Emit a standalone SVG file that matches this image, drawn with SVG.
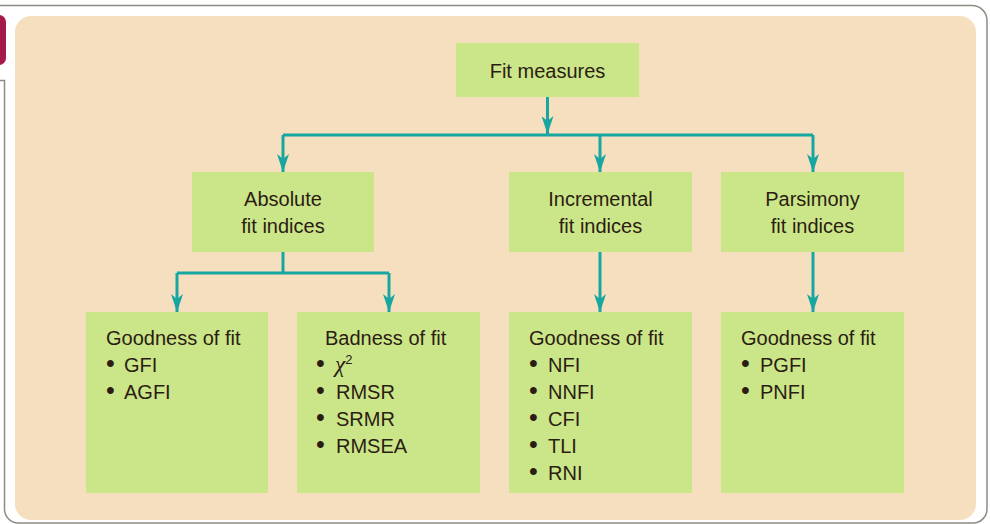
<svg xmlns="http://www.w3.org/2000/svg" width="990" height="524" viewBox="0 0 990 524">
<defs>
<style>
.box{fill:#cbe589;}
.t{font-family:"Liberation Sans",Arial,sans-serif;font-size:20px;fill:#2b1d12;}
.c{text-anchor:middle;}
.b{font-size:25px;}
.ln{fill:none;stroke:#17a6a0;stroke-width:3;}
</style>
<marker id="ah" viewBox="0 0 18 12" refX="18" refY="6" markerWidth="18" markerHeight="12" markerUnits="userSpaceOnUse" orient="auto">
<path d="M0,0 L18,6 L0,12 L5,6 Z" fill="#17a6a0"/>
</marker>
</defs>
<rect x="0" y="0" width="990" height="524" fill="#ffffff"/>
<path d="M0,5.5 H972 A15,15 0 0 1 987,20.5 V509 A14,14 0 0 1 973,523 H18 A14,14 0 0 1 4.5,509 V80.5 H0" fill="none" stroke="#8c8c82" stroke-width="1.5"/>
<rect x="-12" y="15" width="18" height="50" rx="7" fill="#a31a4b"/>
<rect x="15" y="16" width="961" height="504" rx="16" fill="#f5dfbf"/>

<g id="connectors">
<line class="ln" x1="547.5" y1="97" x2="547.5" y2="134" marker-end="url(#ah)"/>
<line class="ln" x1="283" y1="135" x2="813" y2="135"/>
<line class="ln" x1="283" y1="135" x2="283" y2="172" marker-end="url(#ah)"/>
<line class="ln" x1="600" y1="135" x2="600" y2="172" marker-end="url(#ah)"/>
<line class="ln" x1="813" y1="135" x2="813" y2="172" marker-end="url(#ah)"/>
<line class="ln" x1="283" y1="252" x2="283" y2="273"/>
<line class="ln" x1="177" y1="273" x2="389" y2="273"/>
<line class="ln" x1="177" y1="273" x2="177" y2="312" marker-end="url(#ah)"/>
<line class="ln" x1="389" y1="273" x2="389" y2="312" marker-end="url(#ah)"/>
<line class="ln" x1="600" y1="252" x2="600" y2="312" marker-end="url(#ah)"/>
<line class="ln" x1="813" y1="252" x2="813" y2="312" marker-end="url(#ah)"/>
</g>

<g id="fit-measures">
<rect class="box" x="456" y="43" width="183" height="54"/>
<text class="t c" x="547.5" y="78">Fit measures</text>
</g>

<g id="absolute">
<rect class="box" x="192" y="172" width="182" height="80"/>
<text class="t c" x="283" y="206">Absolute</text>
<text class="t c" x="283" y="233">fit indices</text>
</g>

<g id="incremental">
<rect class="box" x="509" y="172" width="183" height="80"/>
<text class="t c" x="600.5" y="206">Incremental</text>
<text class="t c" x="600.5" y="233">fit indices</text>
</g>

<g id="parsimony">
<rect class="box" x="721" y="172" width="183" height="80"/>
<text class="t c" x="812.5" y="206">Parsimony</text>
<text class="t c" x="812.5" y="233">fit indices</text>
</g>

<g id="abs-goodness">
<rect class="box" x="86" y="312" width="182" height="181"/>
<text class="t" x="106" y="345">Goodness of fit</text>
<text class="t" y="372"><tspan class="b" x="106">•</tspan><tspan x="124">GFI</tspan></text>
<text class="t" y="399"><tspan class="b" x="106">•</tspan><tspan x="124">AGFI</tspan></text>
</g>

<g id="abs-badness">
<rect class="box" x="297" y="312" width="183" height="181"/>
<text class="t" x="325" y="345">Badness of fit</text>
<text class="t" y="372"><tspan class="b" x="316">•</tspan><tspan x="335" font-family="Liberation Serif, serif" font-style="italic" font-size="23">χ</tspan><tspan dy="-8" font-size="13">2</tspan></text>
<text class="t" y="399"><tspan class="b" x="316">•</tspan><tspan x="336">RMSR</tspan></text>
<text class="t" y="426"><tspan class="b" x="316">•</tspan><tspan x="336">SRMR</tspan></text>
<text class="t" y="453"><tspan class="b" x="316">•</tspan><tspan x="336">RMSEA</tspan></text>
</g>

<g id="inc-goodness">
<rect class="box" x="509" y="312" width="183" height="181"/>
<text class="t" x="529" y="345">Goodness of fit</text>
<text class="t" y="372"><tspan class="b" x="529">•</tspan><tspan x="548">NFI</tspan></text>
<text class="t" y="399"><tspan class="b" x="529">•</tspan><tspan x="548">NNFI</tspan></text>
<text class="t" y="426"><tspan class="b" x="529">•</tspan><tspan x="548">CFI</tspan></text>
<text class="t" y="453"><tspan class="b" x="529">•</tspan><tspan x="548">TLI</tspan></text>
<text class="t" y="480"><tspan class="b" x="529">•</tspan><tspan x="548">RNI</tspan></text>
</g>

<g id="pars-goodness">
<rect class="box" x="721" y="312" width="183" height="181"/>
<text class="t" x="741" y="345">Goodness of fit</text>
<text class="t" y="372"><tspan class="b" x="741">•</tspan><tspan x="760">PGFI</tspan></text>
<text class="t" y="399"><tspan class="b" x="741">•</tspan><tspan x="760">PNFI</tspan></text>
</g>
</svg>
